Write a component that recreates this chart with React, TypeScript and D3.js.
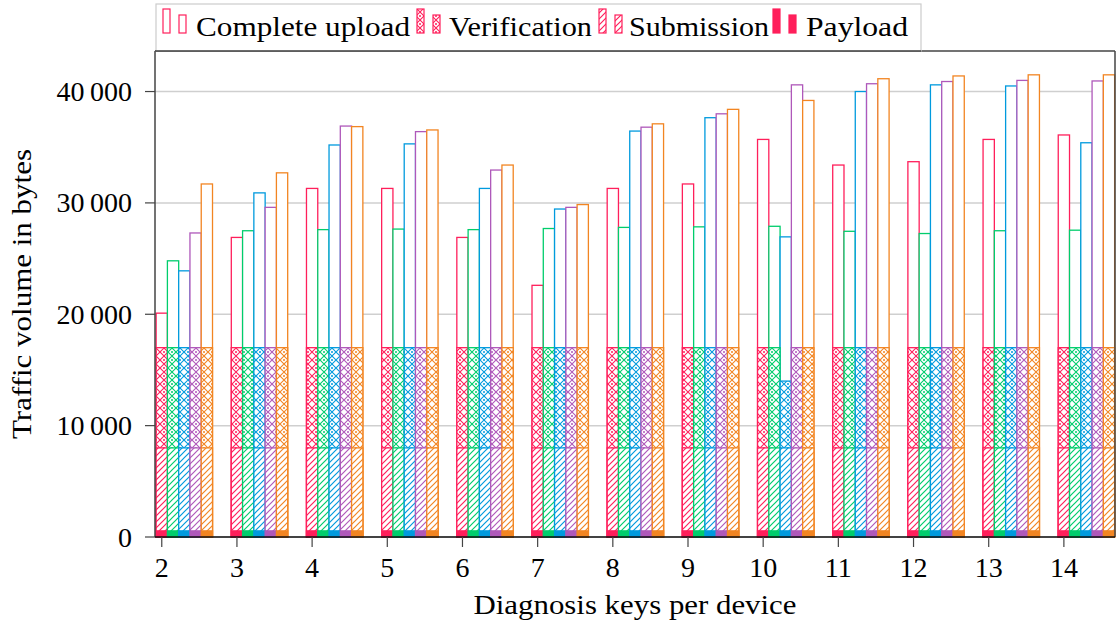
import React from 'react';
import * as d3 from 'd3';

const KEYS = [2, 3, 4, 5, 6, 7, 8, 9, 10, 11, 12, 13, 14];
const COLORS = ['#ff1f5b', '#00cd6c', '#009ade', '#af58ba', '#f28522'];

// complete upload per configuration (one array per bar colour)
const UPLOAD_1 = [20100, 26900, 31300, 31300, 26900, 22600, 31300, 31700, 35700, 33400, 33700, 35700, 36100];
const UPLOAD_2 = [24800, 27500, 27600, 27650, 27600, 27700, 27800, 27850, 27900, 27450, 27250, 27500, 27550];
const UPLOAD_3 = [23900, 30900, 35200, 35300, 31300, 29450, 36450, 37650, 26950, 40000, 40600, 40500, 35400];
const UPLOAD_4 = [27300, 29600, 36900, 36400, 32950, 29600, 36800, 38000, 40600, 40700, 40900, 41000, 40950];
const UPLOAD_5 = [31700, 32700, 36850, 36550, 33400, 29850, 37100, 38400, 39200, 41150, 41400, 41500, 41500];

const VERIFICATION_1 = [17000, 17000, 17000, 17000, 17000, 17000, 17000, 17000, 17000, 17000, 17000, 17000, 17000];
const VERIFICATION_2 = [17000, 17000, 17000, 17000, 17000, 17000, 17000, 17000, 17000, 17000, 17000, 17000, 17000];
const VERIFICATION_3 = [17000, 17000, 17000, 17000, 17000, 17000, 17000, 17000, 14000, 17000, 17000, 17000, 17000];
const VERIFICATION_4 = [17000, 17000, 17000, 17000, 17000, 17000, 17000, 17000, 17000, 17000, 17000, 17000, 17000];
const VERIFICATION_5 = [17000, 17000, 17000, 17000, 17000, 17000, 17000, 17000, 17000, 17000, 17000, 17000, 17000];

const SUBMISSION = [8000, 8000, 8000, 8000, 8000, 8000, 8000, 8000, 8000, 8000, 8000, 8000, 8000];
const PAYLOAD = [550, 550, 550, 550, 550, 550, 550, 550, 550, 550, 550, 550, 550];

const Y_TICKS = [0, 10000, 20000, 30000, 40000];
const LEGEND = ['Complete upload', 'Verification', 'Submission', 'Payload'];

const UPLOADS = [UPLOAD_1, UPLOAD_2, UPLOAD_3, UPLOAD_4, UPLOAD_5];
const VERIFICATIONS = [VERIFICATION_1, VERIFICATION_2, VERIFICATION_3, VERIFICATION_4, VERIFICATION_5];

const WIDTH = 1116;
const HEIGHT = 626;
const LEFT = 155;
const RIGHT = 1115;
const TOP = 51;
const BOTTOM = 537;
const BAR = 0.15; // bar width in x units
const FONT = "'Liberation Serif', 'Times New Roman', Times, serif";

const fmt = (v: number) => {
  if (v === 0) return '0';
  const s = String(v);
  return s.slice(0, s.length - 3) + '\u2009' + s.slice(-3);
};

const App = () => {
  const x = d3.scaleLinear().domain([1.91, 14.68]).range([LEFT, RIGHT]);
  const y = d3.scaleLinear().domain([0, 43640]).range([BOTTOM, TOP]);
  const bw = x(BAR) - x(0);

  const barX = (k: number, i: number) => x(k + i * BAR - BAR / 2);

  const layers = [
    { name: 'upload', get: (i: number, j: number) => UPLOADS[i][j], fill: () => '#fff' },
    { name: 'verification', get: (i: number, j: number) => VERIFICATIONS[i][j], fill: (i: number) => `url(#cross-${i})` },
    { name: 'submission', get: (_i: number, j: number) => SUBMISSION[j], fill: (i: number) => `url(#ne-${i})` },
    { name: 'payload', get: (_i: number, j: number) => PAYLOAD[j], fill: (i: number) => COLORS[i] },
  ];

  // legend layout
  const legendItems = [
    { icon: 163, text: 196, len: 214 },
    { icon: 417, text: 449, len: 143 },
    { icon: 599, text: 629, len: 140 },
    { icon: 773, text: 806, len: 102 },
  ];
  const legendFill = ['#fff', 'url(#cross-0)', 'url(#ne-0)', COLORS[0]];

  return (
    <svg
      width={WIDTH}
      height={HEIGHT}
      style={{ position: 'absolute', left: 0, top: 0, background: '#fff', fontFamily: FONT }}
    >
      <defs>
        {COLORS.map((c, i) => (
          <React.Fragment key={c}>
            <pattern id={`ne-${i}`} width={6} height={6} patternUnits="userSpaceOnUse">
              <rect width={6} height={6} fill="#fff" />
              <path d="M0,6 L6,0 M-1,1 L1,-1 M5,7 L7,5" stroke={c} strokeWidth={1.2} />
            </pattern>
            <pattern id={`cross-${i}`} width={8} height={8} patternUnits="userSpaceOnUse">
              <rect width={8} height={8} fill="#fff" />
              <path d="M0,0 L8,8 M8,0 L0,8" stroke={c} strokeWidth={1.1} />
              <circle cx={4} cy={0} r={1} fill={c} />
              <circle cx={4} cy={8} r={1} fill={c} />
            </pattern>
          </React.Fragment>
        ))}
      </defs>

      {/* grid */}
      {Y_TICKS.map(t => (
        <line key={t} x1={LEFT} x2={RIGHT} y1={y(t)} y2={y(t)} stroke="#cfcfcf" strokeWidth={1.5} />
      ))}

      {/* bars */}
      {layers.map(layer => (
        <g key={layer.name}>
          {KEYS.map((k, j) =>
            COLORS.map((c, i) => {
              const v = layer.get(i, j);
              return (
                <rect
                  key={`${k}-${i}`}
                  x={barX(k, i)}
                  y={y(v)}
                  width={bw}
                  height={y(0) - y(v)}
                  fill={layer.fill(i)}
                  stroke={c}
                  strokeWidth={1.3}
                />
              );
            })
          )}
        </g>
      ))}

      {/* axes */}
      <line x1={LEFT} x2={LEFT} y1={TOP} y2={BOTTOM} stroke="#444" strokeWidth={1.5} />
      <line x1={RIGHT} x2={RIGHT} y1={TOP} y2={BOTTOM} stroke="#444" strokeWidth={1.5} />
      <line x1={LEFT} x2={RIGHT} y1={TOP} y2={TOP} stroke="#444" strokeWidth={1.5} />
      <line x1={LEFT} x2={RIGHT} y1={BOTTOM} y2={BOTTOM} stroke="#111" strokeWidth={1.5} />

      {Y_TICKS.map(t => (
        <g key={t}>
          <line x1={LEFT - 10} x2={LEFT} y1={y(t)} y2={y(t)} stroke="#444" strokeWidth={1.2} />
          <text x={132} y={y(t)} dy="0.34em" textAnchor="end" fontSize={28}>
            {fmt(t)}
          </text>
        </g>
      ))}
      {KEYS.map(k => (
        <g key={k}>
          <line x1={x(k)} x2={x(k)} y1={BOTTOM} y2={BOTTOM + 10} stroke="#444" strokeWidth={1.2} />
          <text x={x(k)} y={577} textAnchor="middle" fontSize={28}>
            {k}
          </text>
        </g>
      ))}

      <text x={(LEFT + RIGHT) / 2} y={614} textAnchor="middle" fontSize={28} textLength={323} lengthAdjust="spacingAndGlyphs">
        Diagnosis keys per device
      </text>
      <text
        transform={`translate(31,${(TOP + BOTTOM) / 2}) rotate(-90)`}
        textAnchor="middle"
        fontSize={28}
        textLength={290}
        lengthAdjust="spacingAndGlyphs"
      >
        Traffic volume in bytes
      </text>

      {/* legend */}
      <rect x={156} y={4} width={765} height={47} fill="#fff" stroke="#cccccc" strokeWidth={1.2} />
      {LEGEND.map((label, n) => {
        const it = legendItems[n];
        return (
          <g key={label}>
            <rect x={it.icon} y={9} width={7} height={24} fill={legendFill[n]} stroke={COLORS[0]} strokeWidth={1.2} />
            <rect x={it.icon + 16} y={15} width={7} height={18} fill={legendFill[n]} stroke={COLORS[0]} strokeWidth={1.2} />
            <text x={it.text} y={36} fontSize={28} textLength={it.len} lengthAdjust="spacingAndGlyphs">
              {label}
            </text>
          </g>
        );
      })}
      <line x1={LEFT} x2={921} y1={TOP} y2={TOP} stroke="#444" strokeWidth={1.5} />
    </svg>
  );
};

export default App;
